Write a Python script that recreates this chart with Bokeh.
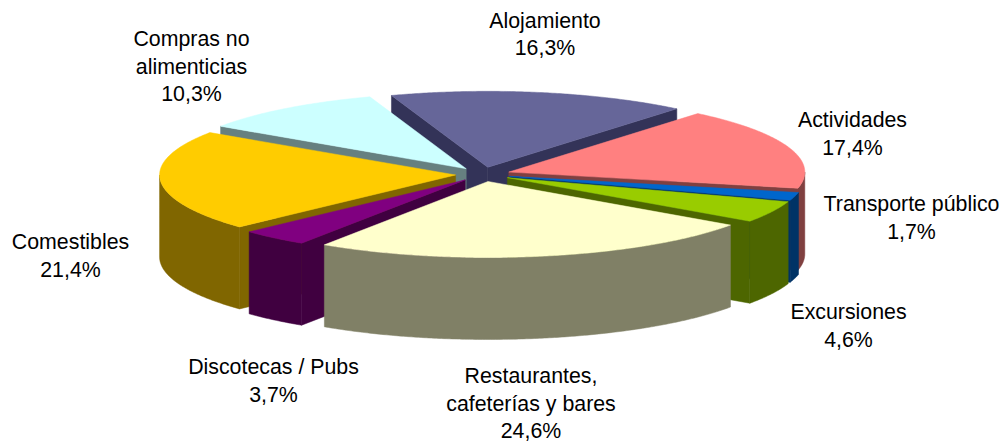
import math
from bokeh.plotting import figure
from bokeh.embed import file_html
from bokeh.resources import INLINE
from bokeh.core.properties import value

# Data, clockwise from the first slice
categories = ["Alojamiento", "Actividades", "Transporte público", "Excursiones",
              "Restaurantes,\ncafeterías y bares", "Discotecas / Pubs", "Comestibles",
              "Compras no\nalimenticias"]
shares = [16.3, 17.4, 1.7, 4.6, 24.6, 3.7, 21.4, 10.3]
top_colors = ["#666699", "#FF8080", "#0066CC", "#99CC00", "#FFFFCC", "#800080", "#FFCC00", "#CCFFFF"]
side_colors = ["#333358", "#804040", "#003366", "#4D6600", "#808066", "#400040", "#806600", "#668080"]

# Layout
CX, CY, RX, RY = 482.4, 173.9, 296.0, 76.0
EXPLODE_X, EXPLODE_Y, DEPTH = 27.4, 7.2, 82.0
START = -19.0
paint_order = [0, 7, 1, 2, 6, 3, 5, 4]
label_x = [544.5, 852, 911, 848, 530.5, 273, 70, 191]
label_y = [20, 119.5, 203.5, 311.5, 375.5, 366.5, 241.5, 38.5]
LINE = 27.6
FONT_PX = 21.33

p = figure(width=1003, height=442, x_range=(0, 1003), y_range=(442, 0),
           output_backend="svg", toolbar_location=None, min_border=0)
p.axis.visible = False
p.grid.visible = False
p.outline_line_color = None
p.background_fill_color = "white"
p.border_fill_color = "white"


def pt(a, th, dy=0.0):
    r = math.radians(th)
    return a[0] + RX * math.sin(r), a[1] - RY * math.cos(r) + dy


def arc(a, t0, t1, dy=0.0):
    n = max(2, int(abs(t1 - t0) * 2))
    return [pt(a, t0 + (t1 - t0) * i / n, dy) for i in range(n + 1)]


xs, ys, fc = [], [], []


def add(poly, color):
    xs.append([q[0] for q in poly])
    ys.append([q[1] for q in poly])
    fc.append(color)


total = sum(shares)
starts = []
c = START
for v in shares:
    starts.append(c)
    c += v / total * 360

for i in paint_order:
    t0 = starts[i]
    t1 = t0 + shares[i] / total * 360
    mid = math.radians((t0 + t1) / 2)
    a = (CX + EXPLODE_X * math.sin(mid), CY - EXPLODE_Y * math.cos(mid))
    side = side_colors[i]
    apex_low = (a[0], a[1] + DEPTH)
    if math.sin(math.radians(t0)) < 0:
        e = pt(a, t0)
        add([a, e, (e[0], e[1] + DEPTH), apex_low], side)
    if math.sin(math.radians(t1)) > 0:
        e = pt(a, t1)
        add([a, e, (e[0], e[1] + DEPTH), apex_low], side)
    lo, hi = max(t0, 90.0), min(t1, 270.0)
    if hi > lo:
        add(arc(a, lo, hi) + arc(a, hi, lo, DEPTH), side)
    add([a] + arc(a, t0, t1), top_colors[i])

p.patches(xs, ys, fill_color=fc, line_color=fc, line_width=0.5)

tx, ty, tt = [], [], []
for i, name in enumerate(categories):
    lines = name.split("\n") + [f"{shares[i]:.1f}%".replace(".", ",")]
    for j, s in enumerate(lines):
        tx.append(label_x[i])
        ty.append(label_y[i] + j * LINE)
        tt.append(s)
p.text(tx, ty, text=tt, text_font=value("Liberation Sans"), text_font_size=f"{FONT_PX}px",
       text_color="black", text_align="center", text_baseline="middle")

open("out.html", "w").write(file_html(p, INLINE))
